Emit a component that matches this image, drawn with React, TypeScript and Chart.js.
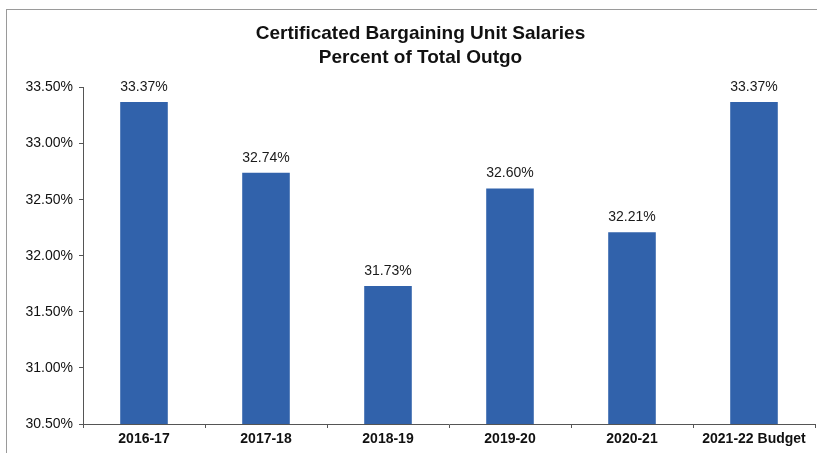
import React, { useEffect, useRef } from "react";
import { Chart, registerables } from "chart.js";

Chart.register(...registerables);

const categories = ["2016-17", "2017-18", "2018-19", "2019-20", "2020-21", "2021-22 Budget"];
const values = [33.37, 32.74, 31.73, 32.6, 32.21, 33.37];
const yMin = 30.5;
const yMax = 33.5;
const yStep = 0.5;
const titleLines = ["Certificated Bargaining Unit Salaries", "Percent of Total Outgo"];

const FONT = "'Liberation Sans', Arial, sans-serif";

const valueLabels = {
  id: "valueLabels",
  afterDatasetsDraw(chart: any) {
    const ctx = chart.ctx;
    const meta = chart.getDatasetMeta(0);
    ctx.save();
    ctx.font = `14px ${FONT}`;
    ctx.fillStyle = "#1a1a1a";
    ctx.textAlign = "center";
    ctx.textBaseline = "bottom";
    meta.data.forEach((bar: any, i: number) => {
      ctx.fillText(values[i].toFixed(2) + "%", bar.x, bar.y - 8);
    });
    ctx.restore();
  },
};

export default function App() {
  const ref = useRef<HTMLCanvasElement>(null);
  useEffect(() => {
    document.body.style.margin = "0";
    const chart = new Chart(ref.current!, {
      type: "bar",
      data: {
        labels: categories,
        datasets: [
          {
            data: values,
            backgroundColor: "#3162ab",
            borderWidth: 0,
            barPercentage: 0.39,
            categoryPercentage: 1,
          },
        ],
      },
      options: {
        animation: false,
        responsive: false,
        devicePixelRatio: 1,
        layout: { padding: { left: 26, right: 2, top: 0, bottom: 0 } },
        plugins: {
          legend: { display: false },
          tooltip: { enabled: false },
          title: {
            display: true,
            text: titleLines,
            color: "#111",
            font: { family: FONT, size: 19, weight: "bold", lineHeight: 1.25 },
            padding: { top: 22, bottom: 18 },
          },
        },
        scales: {
          x: {
            offset: true,
            grid: {
              display: true,
              offset: true,
              drawOnChartArea: false,
              drawTicks: true,
              tickLength: 4,
              color: "#555",
            },
            border: { display: true, color: "#555", width: 1 },
            ticks: {
              color: "#111",
              font: { family: FONT, size: 14, weight: "bold" },
              padding: 3,
              maxRotation: 0,
              autoSkip: false,
            },
            afterFit(scale: any) {
              scale.height = 29;
            },
          },
          y: {
            min: yMin,
            max: yMax,
            grid: {
              display: true,
              drawOnChartArea: false,
              drawTicks: true,
              tickLength: 4,
              color: "#555",
            },
            border: { display: true, color: "#555", width: 1 },
            ticks: {
              stepSize: yStep,
              color: "#111",
              font: { family: FONT, size: 14 },
              padding: 6,
              callback: (v: any) => Number(v).toFixed(2) + "%",
            },
            afterFit(scale: any) {
              scale.width = 57;
            },
          },
        },
      },
      plugins: [valueLabels],
    });
    return () => chart.destroy();
  }, []);
  return (
    <div style={{ position: "relative", width: 817, height: 453, background: "#fff" }}>
      <div
        style={{
          position: "absolute",
          left: 6,
          top: 9,
          right: -2,
          bottom: -2,
          border: "1px solid #9a9a9a",
          pointerEvents: "none",
        }}
      />
      <canvas ref={ref} width={817} height={453} style={{ display: "block" }} />
    </div>
  );
}
